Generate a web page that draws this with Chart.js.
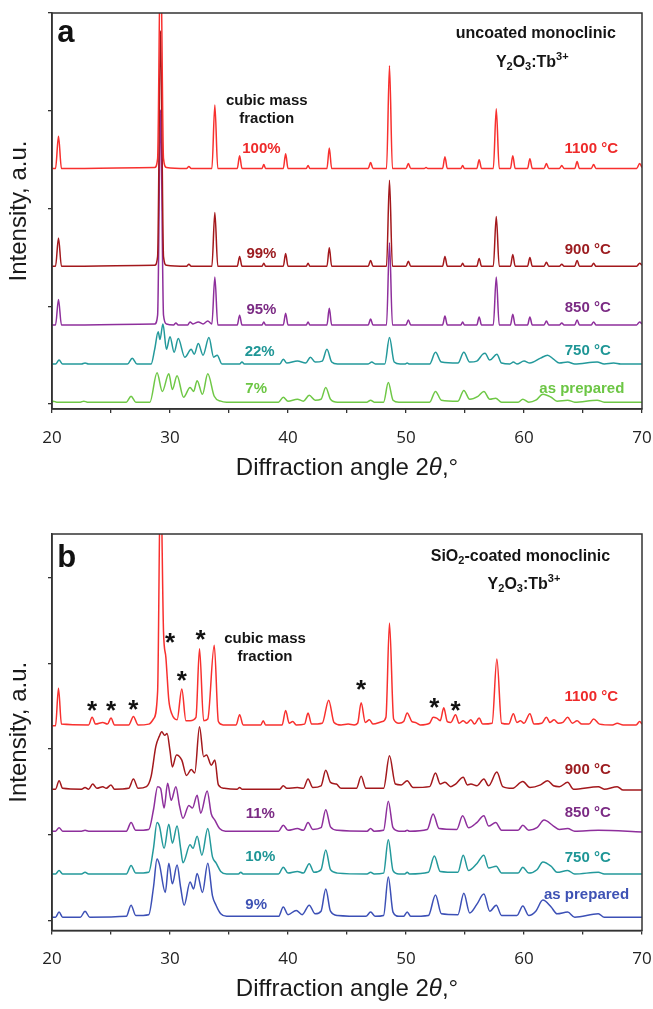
<!DOCTYPE html>
<html>
<head>
<meta charset="utf-8">
<script src="https://cdn.jsdelivr.net/npm/chart.js@4/dist/chart.umd.min.js"></script>
<style>
  body { margin: 0; background: #fff; width: 653px; height: 1009px; overflow: hidden; }
  .panel { position: absolute; left: 0; width: 653px; }
</style>
</head>
<body>
<div class="panel" style="top:0"><canvas id="chartA" width="653" height="500"></canvas></div>
<div class="panel" style="top:500px"><canvas id="chartB" width="653" height="509"></canvas></div>
<script>
// XRD patterns: [2θ in degrees, intensity above the pattern's own baseline]
// (a) uncoated monoclinic Y2O3:Tb3+
const uncoated1100 = [[20,0],[20.3,0],[20.55,0.33],[20.8,0],[28.7,0.01],[28.95,0.1],[29.2,2.3],[29.45,0.1],[29.7,0.01],
  [31.4,0],[31.6,0.02],[31.8,0],[33.55,0],[33.8,0.65],[34.05,0],[35.7,0],[35.9,0.13],[36.1,0],[37.8,0],[37.95,0.04],[38.1,0],
  [39.6,0],[39.8,0.15],[40.0,0],[41.55,0],[41.7,0.03],[41.85,0],[43.3,0],[43.5,0.21],[43.7,0],[46.8,0],[47.0,0.06],[47.2,0],
  [48.35,0],[48.6,1.05],[48.85,0],[50.0,0],[50.2,0.05],[50.4,0],[51.55,0],[51.7,0.01],[51.85,0],[53.1,0],[53.3,0.12],[53.5,0],
  [54.65,0],[54.8,0.03],[54.95,0],[56.0,0],[56.2,0.09],[56.4,0],[57.4,0],[57.65,0.61],[57.9,0],[58.85,0],[59.05,0.13],[59.25,0],
  [60.3,0],[60.5,0.1],[60.7,0],[61.7,0],[61.9,0.05],[62.1,0],[63.0,0],[63.2,0.03],[63.4,0],[64.3,0],[64.5,0.07],[64.7,0],
  [65.7,0],[65.9,0.04],[66.1,0],[69.55,0],[69.8,0.05],[70,0.01]];
const uncoated900 = [[20,0],[20.3,0],[20.55,0.29],[20.8,0],[28.7,0.01],[28.95,0.1],[29.2,2.41],[29.45,0.1],[29.7,0.01],
  [31.4,0],[31.6,0.02],[31.8,0],[33.55,0],[33.8,0.55],[34.05,0],[35.7,0],[35.9,0.10],[36.1,0],[37.8,0],[37.95,0.03],[38.1,0],
  [39.6,0],[39.8,0.13],[40.0,0],[41.55,0],[41.7,0.03],[41.85,0],[43.3,0],[43.5,0.19],[43.7,0],[46.8,0],[47.0,0.06],[47.2,0],
  [48.35,0],[48.6,0.88],[48.85,0],[50.0,0],[50.2,0.05],[50.4,0],[53.1,0],[53.3,0.10],[53.5,0],[54.65,0],[54.8,0.03],[54.95,0],
  [56.0,0],[56.2,0.08],[56.4,0],[57.4,0],[57.65,0.51],[57.9,0],[58.85,0],[59.05,0.12],[59.25,0],[60.3,0],[60.5,0.09],[60.7,0],
  [61.7,0],[61.9,0.04],[62.1,0],[63.0,0],[63.2,0.02],[63.4,0],[64.3,0],[64.5,0.06],[64.7,0],[65.7,0],[65.9,0.03],[66.1,0],
  [69.55,0],[69.8,0.03],[70,0.01]];
const uncoated850 = [[20,0],[20.3,0],[20.55,0.26],[20.8,0],[28.7,0.01],[28.95,0.1],[29.2,2.2],[29.45,0.1],[29.7,0.01],
  [30.3,0],[30.5,0.02],[30.7,0],[31.5,0],[31.7,0.03],[31.95,0.01],[32.4,0.03],[32.8,0.01],[33.2,0.04],[33.55,0.01],[33.8,0.49],[34.05,0],
  [35.7,0],[35.9,0.10],[36.1,0],[37.8,0],[37.95,0.03],[38.1,0],[39.6,0],[39.8,0.12],[40.0,0],[41.55,0],[41.7,0.03],[41.85,0],
  [43.3,0],[43.5,0.17],[43.7,0],[46.8,0],[47.0,0.06],[47.2,0],[48.35,0],[48.6,0.84],[48.85,0],[50.0,0],[50.2,0.05],[50.4,0],
  [53.1,0],[53.3,0.09],[53.5,0],[54.65,0],[54.8,0.03],[54.95,0],[56.0,0],[56.2,0.08],[56.4,0],[57.4,0],[57.65,0.49],[57.9,0],
  [58.85,0],[59.05,0.11],[59.25,0],[60.3,0],[60.5,0.08],[60.7,0],[61.7,0],[61.9,0.04],[62.1,0],[63.0,0],[63.2,0.02],[63.4,0],
  [64.3,0],[64.5,0.05],[64.7,0],[65.7,0],[65.9,0.03],[66.1,0],[69.55,0],[69.8,0.03],[70,0.01]];
const uncoated750 = [[20,0],[20.3,0],[20.6,0.04],[20.9,0],[22.5,0],[22.8,0.01],[23.1,0],[26.4,0],[26.8,0.06],[27.2,0],
  [28.4,0],[28.7,0.15],[29.0,0.33],[29.15,0.25],[29.4,0.41],[29.7,0.15],[30.0,0.28],[30.35,0.12],[30.7,0.26],[31.25,0.07],
  [31.8,0.15],[32.05,0.1],[32.4,0.21],[32.8,0.09],[33.3,0.27],[33.7,0.07],[34.0,0.09],[34.4,0],[35.9,0],[36.1,0.02],[36.3,0],
  [39.3,0],[39.6,0.05],[39.9,0.01],[40.8,0.03],[41.5,0.01],[41.9,0.07],[42.3,0.02],[42.9,0.03],[43.3,0.15],[43.7,0.02],[44.2,0],
  [46.8,0],[47.1,0.02],[47.4,0],[48.2,0],[48.6,0.27],[49.0,0.02],[49.5,0],[49.9,0],[50.1,0.01],[50.3,0],[52.0,0],[52.5,0.12],
  [53.0,0.02],[54.4,0.01],[54.9,0.12],[55.4,0.02],[56.0,0.03],[56.5,0.10],[56.7,0.11],[57.1,0.04],[57.7,0.10],[58.1,0.01],
  [58.8,0],[59.1,0.02],[59.4,0],[60.0,0.03],[60.5,0.01],[61.4,0.06],[62.0,0.09],[62.5,0.05],[63.0,0.01],[63.7,0.02],[64.3,0],
  [66.2,0.02],[66.8,0],[67.6,0.01],[68.2,0],[70,0]];
const uncoatedPrepared = [[20,0],[20.1,0.01],[20.4,0],[22.4,0],[22.7,0.01],[23.0,0],[26.3,0],[26.7,0.06],[27.1,0],[28.3,0],
  [28.9,0.30],[29.35,0.11],[29.9,0.29],[30.2,0.13],[30.6,0.27],[31.15,0.05],[31.7,0.15],[32.0,0.11],[32.3,0.22],[32.75,0.08],
  [33.2,0.29],[33.75,0.06],[34.3,0.01],[34.8,0],[39.2,0],[39.6,0.05],[40.0,0.01],[40.8,0.03],[41.3,0.01],[41.8,0.07],[42.3,0.02],
  [42.8,0.03],[43.2,0.15],[43.6,0.03],[44.2,0],[46.7,0],[47.0,0.02],[47.3,0],[48.1,0],[48.5,0.20],[48.9,0.02],[49.4,0],
  [52.0,0],[52.5,0.11],[53.0,0.02],[54.4,0.01],[54.9,0.12],[55.4,0.03],[56.1,0.06],[56.6,0.11],[57.1,0.03],[57.6,0.04],[58.1,0],
  [59.5,0],[59.9,0.03],[60.4,0],[61.0,0.02],[61.6,0.08],[62.3,0.05],[62.8,0.01],[63.7,0.02],[64.3,0],[66.2,0.02],[66.8,0],[70,0]];

// (b) SiO2-coated monoclinic Y2O3:Tb3+
const coated1100 = [[20,0],[20.3,0],[20.55,0.44],[20.8,0.02],[23.1,0.01],[23.4,0.10],[23.7,0.02],[24.3,0.04],[24.7,0.02],
  [25.0,0.09],[25.3,0.01],[26.5,0.01],[26.9,0.11],[27.3,0.01],[28.2,0.02],[28.6,0.08],[28.95,0.4],[29.2,3.0],[29.45,1.1],
  [29.65,0.8],[29.9,0.3],[30.15,0.14],[30.6,0.07],[31.0,0.43],[31.35,0.06],[31.7,0.06],[32.2,0.1],[32.5,0.9],[32.85,0.06],
  [33.2,0.08],[33.75,0.94],[34.1,0.05],[34.5,0.01],[35.6,0.01],[35.9,0.13],[36.2,0.01],[37.7,0.01],[37.9,0.06],[38.1,0.01],
  [39.5,0.01],[39.8,0.18],[40.1,0.03],[40.4,0.05],[40.7,0.01],[41.4,0.02],[41.7,0.15],[42.0,0.02],[42.9,0.03],[43.45,0.3],
  [43.9,0.04],[44.5,0.01],[45.1,0.02],[45.6,0.01],[45.9,0.03],[46.2,0.27],[46.55,0.04],[46.9,0.07],[47.2,0.02],[48.0,0.05],
  [48.3,0.1],[48.6,1.2],[48.95,0.08],[49.4,0.03],[49.8,0.05],[50.1,0.15],[50.5,0.05],[50.8,0.04],[51.2,0.01],[52.0,0.03],
  [52.3,0.1],[52.6,0.09],[52.9,0.06],[53.2,0.21],[53.5,0.05],[53.8,0.04],[54.2,0.13],[54.5,0.03],[54.85,0.06],[55.15,0.03],
  [55.5,0.07],[55.8,0.02],[56.2,0.09],[56.5,0.02],[57.3,0.03],[57.7,0.78],[58.1,0.03],[58.7,0.02],[59.1,0.14],[59.4,0.04],
  [59.7,0.06],[60.0,0.03],[60.5,0.14],[60.85,0.02],[61.5,0.03],[61.9,0.1],[62.2,0.04],[62.55,0.07],[62.9,0.03],[63.3,0.04],
  [63.7,0.1],[64.1,0.03],[64.5,0.06],[64.9,0.02],[65.5,0.02],[65.9,0.08],[66.4,0.02],[67.5,0.01],[67.9,0.03],[68.4,0.01],
  [69.5,0.01],[69.8,0.05],[70,0.02]];
const coated900 = [[20,0],[20.3,0],[20.6,0.1],[20.9,0.01],[22.5,0],[22.8,0.02],[23.1,0],[23.45,0.06],[23.8,0.01],[24.3,0.03],
  [24.6,0.01],[25.0,0.05],[25.3,0],[26.5,0.01],[26.9,0.12],[27.3,0.01],[28.0,0.03],[28.4,0.15],[28.8,0.5],[29.1,0.62],[29.3,0.67],
  [29.55,0.63],[29.75,0.65],[30.0,0.45],[30.2,0.26],[30.55,0.40],[31.0,0.34],[31.4,0.16],[31.8,0.23],[32.1,0.19],[32.5,0.73],
  [32.85,0.38],[33.1,0.40],[33.5,0.28],[33.8,0.34],[34.1,0.05],[34.6,0.01],[35.7,0],[35.9,0.02],[36.1,0],[39.3,0],[39.6,0.04],
  [39.9,0.01],[40.8,0.02],[41.3,0.01],[41.7,0.12],[42.1,0.02],[42.8,0.04],[43.2,0.22],[43.6,0.08],[44.1,0.06],[44.5,0.01],
  [45.8,0.01],[46.2,0.15],[46.6,0.01],[48.1,0.01],[48.6,0.39],[49.1,0.06],[49.6,0.05],[50.1,0.1],[50.6,0.02],[52.0,0.03],
  [52.5,0.19],[52.9,0.06],[53.3,0.08],[53.8,0.03],[54.2,0.06],[54.85,0.14],[55.2,0.05],[55.5,0.06],[56.0,0.04],[56.6,0.12],
  [57.0,0.04],[57.7,0.2],[58.2,0.03],[59.0,0.01],[59.9,0.09],[60.5,0.02],[61.4,0.05],[62.0,0.1],[62.5,0.04],[63.0,0.03],
  [63.7,0.08],[64.2,0],[66.3,0.03],[66.8,0],[67.9,0.03],[68.4,-0.01],[70,-0.01]];
const coated850 = [[20,0],[20.3,0],[20.6,0.04],[20.9,0],[22.5,0],[22.8,0.01],[23.1,0],[26.3,0],[26.7,0.1],[27.1,0.01],
  [28.2,0.02],[28.6,0.25],[28.95,0.52],[29.2,0.5],[29.5,0.27],[29.8,0.56],[30.1,0.36],[30.5,0.52],[30.8,0.3],[31.1,0.15],
  [31.6,0.30],[31.9,0.27],[32.3,0.42],[32.6,0.21],[33.15,0.47],[33.5,0.2],[33.8,0.13],[34.2,0.03],[34.7,0],[39.2,0],[39.6,0.07],
  [40.0,0.01],[40.8,0.03],[41.3,0.01],[41.7,0.1],[42.1,0.02],[42.8,0.04],[43.2,0.25],[43.6,0.05],[44.2,0.01],[46.7,0],[47.0,0.03],
  [47.3,0],[48.1,0.01],[48.5,0.35],[48.9,0.04],[49.4,0],[49.9,0],[50.1,0.01],[50.3,0],[51.8,0.02],[52.3,0.2],[52.8,0.03],
  [54.3,0.02],[54.8,0.18],[55.3,0.04],[56.0,0.1],[56.6,0.18],[57.0,0.06],[57.6,0.1],[58.1,0.01],[59.5,0.01],[59.9,0.07],
  [60.4,0.01],[61.1,0.04],[61.7,0.13],[62.5,0.06],[63.0,0.02],[63.7,0.03],[64.3,0],[66.3,0.01],[70,-0.01]];
const coated750 = [[20,0],[20.3,0],[20.6,0.04],[20.9,0],[22.5,0],[22.8,0.02],[23.1,0],[26.3,0],[26.7,0.1],[27.1,0.01],
  [28.2,0.02],[28.6,0.3],[28.9,0.6],[29.1,0.56],[29.5,0.3],[29.9,0.58],[30.2,0.36],[30.6,0.56],[30.9,0.3],[31.1,0.13],
  [31.7,0.34],[31.95,0.3],[32.3,0.44],[32.7,0.22],[33.2,0.53],[33.6,0.2],[33.9,0.13],[34.3,0.03],[34.8,0],[35.8,0],[36.0,0.02],
  [36.2,0],[39.2,0],[39.6,0.08],[40.0,0.01],[40.8,0.03],[41.3,0.01],[41.8,0.12],[42.2,0.02],[42.8,0.05],[43.2,0.28],[43.6,0.05],
  [44.2,0.01],[46.7,0],[47.0,0.02],[47.3,0],[48.1,0.01],[48.5,0.4],[48.9,0.04],[49.4,0],[49.9,0],[50.1,0.02],[50.3,0],
  [51.9,0.02],[52.4,0.21],[52.9,0.03],[54.4,0.02],[54.85,0.22],[55.3,0.04],[56.0,0.12],[56.6,0.22],[57.0,0.07],[57.65,0.09],
  [58.1,0.01],[59.5,0.01],[59.9,0.08],[60.4,0.01],[61.1,0.05],[61.6,0.14],[62.3,0.09],[62.8,0.02],[63.7,0.04],[64.3,0],
  [66.3,0.02],[66.8,0],[70,0]];
const coatedPrepared = [[20,0],[20.3,0],[20.6,0.06],[20.9,0],[22.4,0],[22.8,0.07],[23.2,0],[26.3,0.01],[26.7,0.14],[27.1,0.02],
  [28.2,0.03],[28.6,0.35],[28.9,0.68],[29.1,0.62],[29.6,0.29],[29.9,0.63],[30.2,0.39],[30.6,0.61],[30.9,0.35],[31.2,0.14],
  [31.7,0.41],[32.0,0.33],[32.3,0.51],[32.75,0.29],[33.2,0.63],[33.6,0.25],[33.9,0.14],[34.3,0.04],[34.8,0.01],[39.2,0.01],
  [39.6,0.12],[40.0,0.03],[40.7,0.08],[41.2,0.03],[41.8,0.14],[42.3,0.04],[42.8,0.07],[43.2,0.33],[43.6,0.07],[44.2,0.02],
  [46.6,0.01],[47.0,0.06],[47.4,0.01],[48.1,0.02],[48.5,0.47],[48.9,0.06],[49.4,0.01],[49.8,0.01],[50.1,0.06],[50.4,0.01],
  [51.9,0.02],[52.5,0.26],[53.0,0.04],[54.4,0.03],[54.9,0.28],[55.4,0.05],[56.0,0.15],[56.6,0.27],[57.1,0.07],[57.65,0.14],
  [58.1,0.02],[59.4,0.02],[59.9,0.13],[60.4,0.02],[61.0,0.07],[61.6,0.2],[62.3,0.12],[62.8,0.04],[63.7,0.06],[64.3,0],
  [66.3,0.04],[66.8,0],[70,0]];

// vertical stacking offsets (a.u.), top pattern first
const uncoatedBase = [2.41, 1.41, 0.81, 0.41, 0.02];
const coatedBase = [2.27, 1.53, 1.04, 0.54, 0.035];
const sampleLabels = ['1100 °C', '900 °C', '850 °C', '750 °C', 'as prepared'];
const uncoatedFraction = ['100%', '99%', '95%', '22%', '7%'];
const coatedFraction = ['', '', '11%', '10%', '9%'];
// impurity reflections marked with * in (b): [2θ, level]
const starMarks = [[23.4, 2.48], [25.0, 2.48], [26.9, 2.49], [30.0, 3.27], [31.0, 2.83], [32.6, 3.31], [46.2, 2.72], [52.4, 2.51], [54.2, 2.48]];

const lineColorsA = ['#f8302e', '#a3181c', '#8e2f9c', '#23999b', '#6fc846'];
const lineColorsB = ['#f8302e', '#a3181c', '#8e2f9c', '#23999b', '#3c50b6'];
const textColorsA = ['#ee2a2a', '#9c1c20', '#7b2b84', '#1f9696', '#6cc644'];
const textColorsB = ['#ee2a2a', '#9c1c20', '#7b2b84', '#1f9696', '#3e52b4'];

const FONT = '"Liberation Sans", Arial, sans-serif';

function makeDatasets(curves, bases, colors) {
  return curves.map((pts, i) => ({
    data: pts.map(([x, v]) => ({ x, y: v + bases[i] })),
    borderColor: colors[i],
    borderWidth: 1.5,
    pointRadius: 0,
    fill: false,
    cubicInterpolationMode: 'monotone'
  }));
}

// text made of pieces: [text, kind] with kind '' | 'sub' | 'sup' | 'it'
function drawRich(ctx, parts, cx, cy, size, color, align, weight) {
  const fontFor = k => {
    const s = (k === 'sub' || k === 'sup') ? Math.round(size * 0.7) : size;
    return (k === 'it' ? 'italic ' : '') + weight + ' ' + s + 'px ' + FONT;
  };
  let width = 0;
  for (const [t, k] of parts) { ctx.font = fontFor(k); width += ctx.measureText(t).width; }
  let x = align === 'left' ? cx : cx - width / 2;
  ctx.fillStyle = color;
  ctx.textAlign = 'left';
  ctx.textBaseline = 'middle';
  for (const [t, k] of parts) {
    ctx.font = fontFor(k);
    const dy = k === 'sub' ? size * 0.28 : k === 'sup' ? -size * 0.36 : 0;
    ctx.fillText(t, x, cy + dy);
    x += ctx.measureText(t).width;
  }
}

function overlayPlugin(notes, stars) {
  return {
    id: 'overlay',
    afterDraw(chart) {
      const { ctx, chartArea: a, scales: { x, y } } = chart;
      ctx.save();
      ctx.strokeStyle = '#333';
      ctx.lineWidth = 1.5;
      ctx.strokeRect(a.left, a.top, a.right - a.left, a.bottom - a.top);
      for (const n of notes) {
        drawRich(ctx, n.parts, x.getPixelForValue(n.x), y.getPixelForValue(n.y), n.size,
          n.color || '#151515', n.align || 'center', n.weight || 'bold');
      }
      ctx.fillStyle = '#111';
      ctx.font = 'bold 26px ' + FONT;
      ctx.textAlign = 'center';
      ctx.textBaseline = 'alphabetic';
      for (const [sx, sy] of stars) {
        ctx.fillText('*', x.getPixelForValue(sx), y.getPixelForValue(sy) + 26 * 0.43);
      }
      drawRich(ctx, [['Diffraction angle 2', ''], ['θ', 'it'], [',°', '']],
        (a.left + a.right) / 2, a.bottom + 59, 24, '#1a1a1a', 'center', 'normal');
      ctx.restore();
    }
  };
}

function panelOptions(yMin, yMax, padTop, axisHeight, labelPad) {
  const axisColor = '#333';
  return {
    responsive: false,
    animation: false,
    events: [],
    layout: { padding: { top: padTop, right: 11, bottom: 0, left: 0 } },
    plugins: { legend: { display: false }, tooltip: { enabled: false } },
    scales: {
      x: {
        type: 'linear', min: 20, max: 70,
        // fixed axis band; end labels may overhang into the page margin
        afterFit: s => { s.height = axisHeight; s.paddingLeft = 0; s.paddingRight = 0; },
        ticks: {
          stepSize: 5, autoSkip: false, maxRotation: 0, padding: labelPad, color: '#222',
          font: { family: 'Open Sans', size: 17 },
          callback: v => (v % 10 === 0 ? String(v) : '')
        },
        grid: { drawOnChartArea: false, tickLength: 4, color: axisColor, lineWidth: 1.3 },
        border: { color: axisColor, width: 1.5 }
      },
      y: {
        type: 'linear', min: yMin, max: yMax,
        afterFit: s => { s.width = 52; },
        ticks: { stepSize: 1, includeBounds: false, padding: 0, callback: () => '' },
        grid: { drawOnChartArea: false, tickLength: 4, color: axisColor, lineWidth: 1.3 },
        border: { color: axisColor, width: 1.5 },
        title: {
          display: true, text: 'Intensity, a.u.', color: '#1a1a1a',
          font: { family: 'Liberation Sans', size: 24 }, padding: { top: 5, bottom: 0 }
        }
      }
    }
  };
}

const formula = [['Y', ''], ['2', 'sub'], ['O', ''], ['3', 'sub'], [':Tb', ''], ['3+', 'sup']];

// annotation positions in data coordinates (2θ, a.u.)
const notesA = [
  { parts: [['a', '']], x: 20.45, y: 3.79, size: 31, align: 'left', color: '#111' },
  { parts: [['uncoated monoclinic', '']], x: 61.0, y: 3.79, size: 16 },
  { parts: formula, x: 60.7, y: 3.49, size: 16 },
  { parts: [['cubic mass', '']], x: 38.2, y: 3.10, size: 15 },
  { parts: [['fraction', '']], x: 38.2, y: 2.92, size: 15 }
];
const fracXA = [37.75, 37.75, 37.75, 37.6, 37.3];
const fracYA = [2.61, 1.54, 0.96, 0.53, 0.16];
const tempXA = [65.7, 65.4, 65.4, 65.4, 64.9];
const tempYA = [2.61, 1.58, 0.98, 0.54, 0.16];
uncoatedFraction.forEach((t, i) => notesA.push({ parts: [[t, '']], x: fracXA[i], y: fracYA[i], size: 15, color: textColorsA[i] }));
sampleLabels.forEach((t, i) => notesA.push({ parts: [[t, '']], x: tempXA[i], y: tempYA[i], size: 15, color: textColorsA[i] }));

const notesB = [
  { parts: [['b', '']], x: 20.45, y: 4.22, size: 31, align: 'left', color: '#111' },
  { parts: [['SiO', ''], ['2', 'sub'], ['-coated monoclinic', '']], x: 59.7, y: 4.25, size: 16 },
  { parts: formula, x: 60.0, y: 3.92, size: 16 },
  { parts: [['cubic mass', '']], x: 38.05, y: 3.29, size: 15 },
  { parts: [['fraction', '']], x: 38.05, y: 3.08, size: 15 }
];
const fracXB = [0, 0, 37.65, 37.65, 37.3];
const fracYB = [0, 0, 1.24, 0.74, 0.18];
const tempXB = [65.7, 65.4, 65.4, 65.4, 65.3];
const tempYB = [2.61, 1.75, 1.25, 0.73, 0.30];
coatedFraction.forEach((t, i) => { if (t) notesB.push({ parts: [[t, '']], x: fracXB[i], y: fracYB[i], size: 15, color: textColorsB[i] }); });
sampleLabels.forEach((t, i) => notesB.push({ parts: [[t, '']], x: tempXB[i], y: tempYB[i], size: 15, color: textColorsB[i] }));

new Chart(document.getElementById('chartA'), {
  type: 'line',
  data: { datasets: makeDatasets([uncoated1100, uncoated900, uncoated850, uncoated750, uncoatedPrepared], uncoatedBase, lineColorsA) },
  options: panelOptions(-0.05, 4.0, 13, 91, 15),
  plugins: [overlayPlugin(notesA, [])]
});

new Chart(document.getElementById('chartB'), {
  type: 'line',
  data: { datasets: makeDatasets([coated1100, coated900, coated850, coated750, coatedPrepared], coatedBase, lineColorsB) },
  options: panelOptions(-0.12, 4.51, 34, 78.5, 14),
  plugins: [overlayPlugin(notesB, starMarks)]
});
</script>
</body>
</html>
